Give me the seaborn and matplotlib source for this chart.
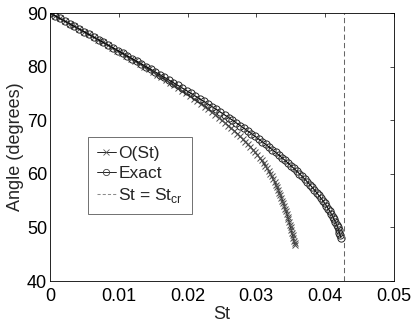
import numpy as np
import pandas as pd
import seaborn as sns
import matplotlib
matplotlib.use('Agg')
import matplotlib.pyplot as plt
from matplotlib.lines import Line2D

# angle (degrees), every half degree
angle = [90, 89.5, 89, 88.5, 88, 87.5, 87, 86.5, 86, 85.5,
         85, 84.5, 84, 83.5, 83, 82.5, 82, 81.5, 81, 80.5,
         80, 79.5, 79, 78.5, 78, 77.5, 77, 76.5, 76, 75.5,
         75, 74.5, 74, 73.5, 73, 72.5, 72, 71.5, 71, 70.5,
         70, 69.5, 69, 68.5, 68, 67.5, 67, 66.5, 66, 65.5,
         65, 64.5, 64, 63.5, 63, 62.5, 62, 61.5, 61, 60.5,
         60, 59.5, 59, 58.5, 58, 57.5, 57, 56.5, 56, 55.5,
         55, 54.5, 54, 53.5, 53, 52.5, 52, 51.5, 51, 50.5,
         50, 49.5, 49, 48.5, 48, 47.5, 47]

# exact solution, St at each angle
st_exact = [0, 0.00071, 0.00142, 0.00213, 0.00284, 0.00355, 0.00425, 0.00496, 0.00567, 0.00637,
            0.00707, 0.00777, 0.00847, 0.00917, 0.00986, 0.01055, 0.01124, 0.01193, 0.01261, 0.01329,
            0.01397, 0.01464, 0.01531, 0.01597, 0.01664, 0.01729, 0.01795, 0.01859, 0.01924, 0.01988,
            0.02051, 0.02114, 0.02176, 0.02238, 0.02299, 0.0236, 0.0242, 0.02479, 0.02538, 0.02596,
            0.02653, 0.02709, 0.02765, 0.0282, 0.02875, 0.02929, 0.02981, 0.03033, 0.03085, 0.03135,
            0.03184, 0.03233, 0.03281, 0.03328, 0.03373, 0.03418, 0.03462, 0.03505, 0.03547, 0.03588,
            0.03628, 0.03667, 0.03705, 0.03742, 0.03777, 0.03812, 0.03845, 0.03877, 0.03908, 0.03938,
            0.03967, 0.03994, 0.0402, 0.04045, 0.04069, 0.04091, 0.04112, 0.04132, 0.0415, 0.04167,
            0.04182, 0.04197, 0.04209, 0.04221, 0.04229]

# O(St) approximation
st_order = [0, 0.00071, 0.00142, 0.00213, 0.00284, 0.00354, 0.00424, 0.00494, 0.00564, 0.00633,
            0.00702, 0.00771, 0.00839, 0.00908, 0.00975, 0.01042, 0.01108, 0.01175, 0.0124, 0.01305,
            0.0137, 0.01433, 0.01497, 0.01558, 0.01621, 0.01682, 0.01743, 0.01801, 0.01861, 0.01919,
            0.01976, 0.02033, 0.02088, 0.02143, 0.02197, 0.0225, 0.02302, 0.02352, 0.02403, 0.02452,
            0.02499, 0.02545, 0.02591, 0.02636, 0.0268, 0.02723, 0.02763, 0.02803, 0.02842, 0.0288,
            0.02915, 0.02951, 0.02985, 0.03017, 0.03047, 0.03077, 0.03105, 0.03132, 0.03158, 0.03182,
            0.03204, 0.03225, 0.03246, 0.03266, 0.03285, 0.03303, 0.0332, 0.03336, 0.03351, 0.03366,
            0.0338, 0.03394, 0.03407, 0.0342, 0.03432, 0.03444, 0.03456, 0.03467, 0.03478, 0.03489,
            0.03499, 0.03509, 0.03519, 0.03529, 0.03539, 0.03549, 0.03559, 0.03565]

angle_exact = angle[:84] + [48.1]
angle_order = angle + [46.7]
st_cr = 0.0428

x_ticks = [0, 0.01, 0.02, 0.03, 0.04, 0.05]
x_labels = ['0', '0.01', '0.02', '0.03', '0.04', '0.05']
y_ticks = [40, 50, 60, 70, 80, 90]

sns.set_theme(style='white')
plt.rcParams['font.family'] = ['Liberation Sans', 'DejaVu Sans']
plt.rcParams['font.size'] = 13

fig = plt.figure(figsize=(4.15, 3.23), dpi=100)
ax = fig.add_axes([0.1205, 0.130, 0.8285, 0.8297])

sns.lineplot(x=st_order, y=angle_order, sort=False, estimator=None, ax=ax,
             color='black', lw=0.8, marker='x', markersize=4.5,
             markeredgecolor='0.3', markeredgewidth=0.7)
sns.lineplot(x=st_exact, y=angle_exact, sort=False, estimator=None, ax=ax,
             color='black', lw=0.8, marker='o', markersize=5.2,
             markerfacecolor='none', markeredgecolor='0.15', markeredgewidth=0.7)
ax.axvline(st_cr, color='0.4', lw=0.75, dashes=[5, 3])

ax.set_xlim(0, 0.05)
ax.set_ylim(40, 90)
ax.set_xticks(x_ticks)
ax.set_xticklabels(x_labels)
ax.set_yticks(y_ticks)
ax.set_xlabel('St', fontsize=13, labelpad=1)
ax.set_ylabel('Angle (degrees)', fontsize=13, labelpad=2)
ax.tick_params(axis='both', direction='in', length=3, width=0.5, top=True, right=True,
               labelsize=13, colors='black')
ax.tick_params(axis='x', pad=5)
ax.tick_params(axis='y', pad=2)
for sp in ax.spines.values():
    sp.set_color('black')
    sp.set_linewidth(0.6)

handles = [
    Line2D([], [], color='black', lw=0.6, marker='x', markersize=4,
           markeredgecolor='0.35', markeredgewidth=0.6),
    Line2D([], [], color='black', lw=0.6, marker='o', markersize=4.5,
           markerfacecolor='none', markeredgecolor='0.25', markeredgewidth=0.6),
    Line2D([], [], color='0.55', lw=0.75, dashes=[3, 2]),
]
labels = ['O(St)', 'Exact', 'St = St$_{\\mathregular{cr}}$']
leg = ax.legend(handles, labels, loc='lower left', bbox_to_anchor=(0.11, 0.25),
                borderaxespad=0, frameon=True, fancybox=False, framealpha=1,
                edgecolor='0.35', fontsize=12.5, borderpad=0.5, labelspacing=0.3,
                handlelength=1.1, handletextpad=0.15)
leg.get_frame().set_linewidth(0.6)

plt.savefig('out.png', dpi=100)
